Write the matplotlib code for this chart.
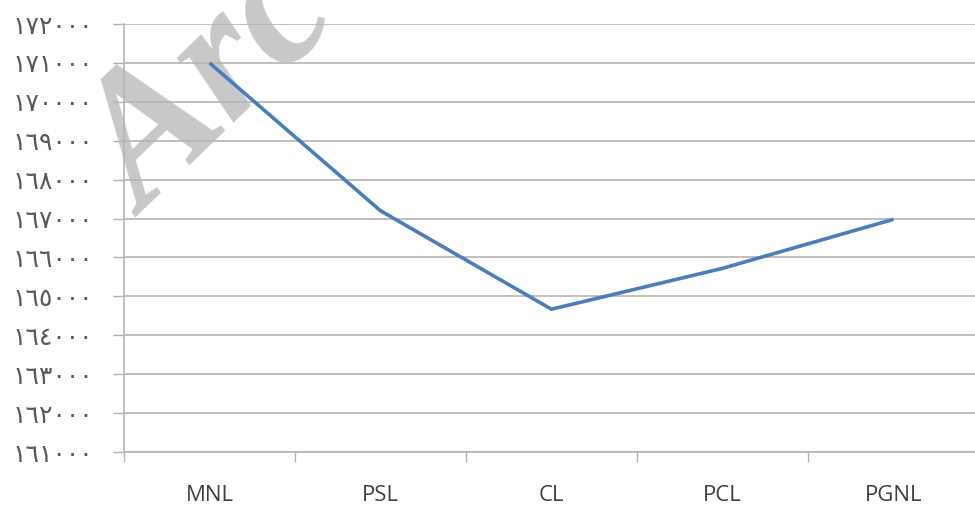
import matplotlib
matplotlib.use("Agg")
import matplotlib.pyplot as plt
from matplotlib.ticker import FixedLocator, NullFormatter

categories = ["MNL", "PSL", "CL", "PCL", "PGNL"]
values = [171000, 167200, 164670, 165720, 166980]
y_ticks = list(range(161000, 173000, 1000))

AR = "٠١٢٣٤٥٦٧٨٩"
def to_arabic(n):
    return "".join(AR[int(c)] for c in str(n))

W, H = 975, 507
fig = plt.figure(figsize=(W / 100, H / 100), dpi=100)
fig.patch.set_facecolor("white")

# watermark
fig.text(145 / W, (H - 218) / H, "Arc", fontsize=134, family="Liberation Serif",
         weight="bold", style="italic", color="#c8c8c8", rotation=44,
         rotation_mode="anchor", ha="left", va="baseline", zorder=0)

ax = fig.add_axes([124 / W, 55 / H, 855 / W, 428 / H])
ax.set_facecolor("none")
ax.set_zorder(1)

x = list(range(len(categories)))
ax.plot(x, values, color="#4a7ebb", linewidth=2.6, solid_capstyle="butt", zorder=3)

ax.set_xlim(-0.5, len(categories) - 0.5)
ax.set_ylim(161000, 172000)

grid_c = "#b8b3af"
ax.yaxis.set_major_locator(FixedLocator(y_ticks))
ax.set_yticklabels([to_arabic(v) for v in y_ticks], family="DejaVu Sans",
                   fontsize=18, color="#595959")
ax.tick_params(axis="y", length=8, width=1, color=grid_c, pad=14)
ax.grid(axis="y", color=grid_c, linewidth=1.2, zorder=1)

ax.xaxis.set_major_locator(FixedLocator([i + 0.5 for i in range(len(categories) - 1)] + [-0.5]))
ax.xaxis.set_major_formatter(NullFormatter())
ax.xaxis.set_minor_locator(FixedLocator(x))
ax.set_xticklabels(categories, minor=True, fontsize=16, family="Open Sans", color="#404040")
ax.tick_params(axis="x", which="major", length=7, width=1, color=grid_c)
ax.tick_params(axis="x", which="minor", length=0, pad=24)

for s in ["top", "right"]:
    ax.spines[s].set_visible(False)
for s in ["left", "bottom"]:
    ax.spines[s].set_color(grid_c)
    ax.spines[s].set_linewidth(1.2)

fig.savefig("out.png", dpi=100)
